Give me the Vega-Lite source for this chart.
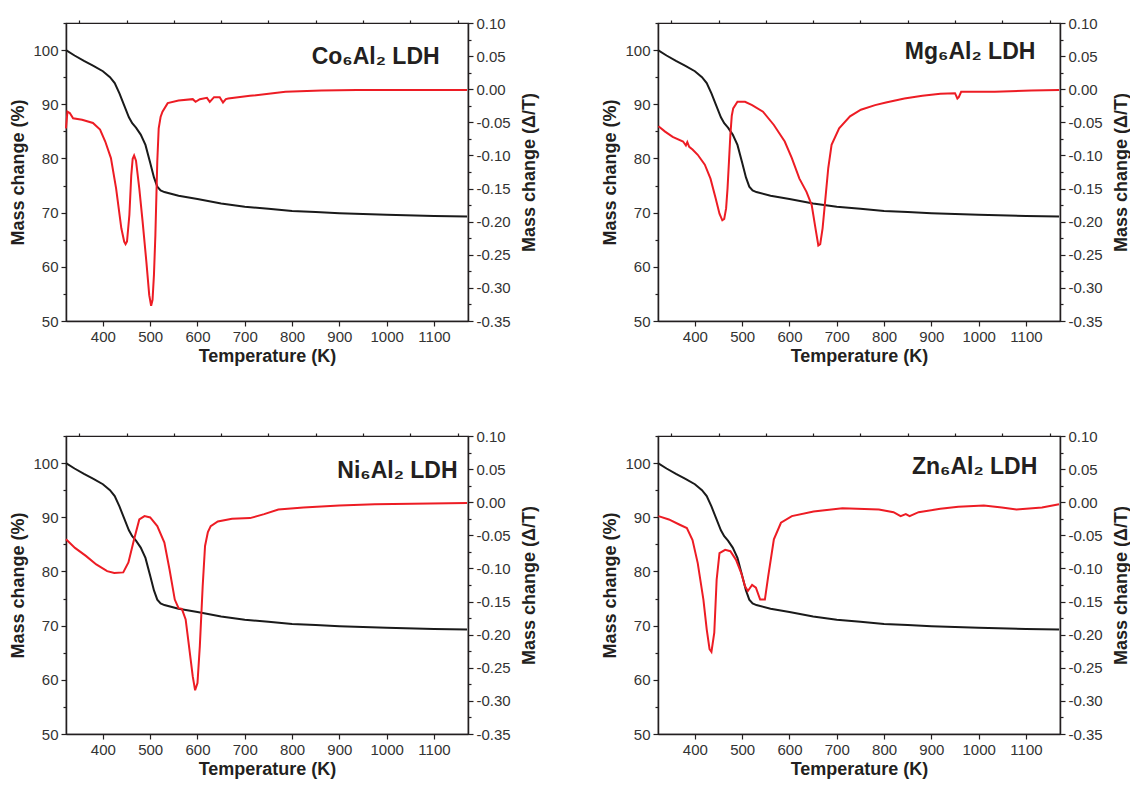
{
  "$schema": "https://vega.github.io/schema/vega-lite/v6.json",
  "padding": {"left": 9, "top": 15, "right": 0, "bottom": 0},
  "config": {
    "font": "Liberation Sans",
    "view": {"stroke": "#231f20", "strokeWidth": 1.2},
    "axis": {"grid": false, "domainColor": "#231f20", "domainWidth": 1.5, "tickColor": "#231f20", "tickWidth": 1.2, "tickSize": 5, "labelFontSize": 15, "labelColor": "#333333", "labelFont": "Liberation Sans", "titleFont": "Liberation Sans", "titleFontSize": 18, "titleFontWeight": "bold", "titleColor": "#231f20", "labelPadding": 3},
    "axisX": {"titlePadding": 3},
    "axisY": {"titlePadding": 5}
  },
  "datasets": {
    "tga": [
      {"T": 322, "m": 100}, {"T": 340, "m": 99.0}, {"T": 360, "m": 98.0}, {"T": 380, "m": 97.1}, {"T": 400, "m": 96.1},
      {"T": 415, "m": 95.0}, {"T": 425, "m": 93.9}, {"T": 435, "m": 92.0}, {"T": 445, "m": 89.8}, {"T": 455, "m": 87.6},
      {"T": 462, "m": 86.5}, {"T": 470, "m": 85.7}, {"T": 480, "m": 84.4}, {"T": 490, "m": 82.5}, {"T": 500, "m": 79.2},
      {"T": 508, "m": 76.5}, {"T": 515, "m": 74.8}, {"T": 522, "m": 74.1}, {"T": 530, "m": 73.8}, {"T": 560, "m": 73.1},
      {"T": 600, "m": 72.5}, {"T": 650, "m": 71.7}, {"T": 700, "m": 71.1}, {"T": 750, "m": 70.7}, {"T": 800, "m": 70.3},
      {"T": 850, "m": 70.1}, {"T": 900, "m": 69.9}, {"T": 1000, "m": 69.6}, {"T": 1100, "m": 69.4}, {"T": 1170, "m": 69.3}
    ],
    "co": [
      {"T": 322, "d": -0.059}, {"T": 325, "d": -0.034}, {"T": 330, "d": -0.036}, {"T": 337, "d": -0.044}, {"T": 356, "d": -0.046},
      {"T": 379, "d": -0.051}, {"T": 394, "d": -0.061}, {"T": 405, "d": -0.079}, {"T": 417, "d": -0.104}, {"T": 428, "d": -0.150},
      {"T": 439, "d": -0.210}, {"T": 445, "d": -0.230}, {"T": 448, "d": -0.234}, {"T": 451, "d": -0.230}, {"T": 456, "d": -0.190},
      {"T": 460, "d": -0.130}, {"T": 463, "d": -0.105}, {"T": 466, "d": -0.100}, {"T": 470, "d": -0.108}, {"T": 477, "d": -0.150},
      {"T": 484, "d": -0.200}, {"T": 492, "d": -0.261}, {"T": 498, "d": -0.311}, {"T": 502, "d": -0.327}, {"T": 505, "d": -0.318},
      {"T": 508, "d": -0.280}, {"T": 511, "d": -0.220}, {"T": 515, "d": -0.109}, {"T": 518, "d": -0.059}, {"T": 522, "d": -0.042},
      {"T": 526, "d": -0.034}, {"T": 537, "d": -0.021}, {"T": 560, "d": -0.017}, {"T": 590, "d": -0.015}, {"T": 596, "d": -0.019},
      {"T": 605, "d": -0.015}, {"T": 620, "d": -0.013}, {"T": 626, "d": -0.019}, {"T": 635, "d": -0.012}, {"T": 647, "d": -0.012},
      {"T": 654, "d": -0.020}, {"T": 660, "d": -0.015}, {"T": 665, "d": -0.014}, {"T": 711, "d": -0.010}, {"T": 786, "d": -0.004},
      {"T": 862, "d": -0.002}, {"T": 937, "d": -0.001}, {"T": 1170, "d": -0.001}
    ],
    "mg": [
      {"T": 323, "d": -0.056}, {"T": 337, "d": -0.064}, {"T": 353, "d": -0.072}, {"T": 375, "d": -0.079}, {"T": 381, "d": -0.085},
      {"T": 384, "d": -0.080}, {"T": 388, "d": -0.087}, {"T": 395, "d": -0.091}, {"T": 406, "d": -0.099}, {"T": 421, "d": -0.114},
      {"T": 433, "d": -0.135}, {"T": 444, "d": -0.165}, {"T": 452, "d": -0.188}, {"T": 458, "d": -0.198}, {"T": 462, "d": -0.196},
      {"T": 466, "d": -0.180}, {"T": 469, "d": -0.150}, {"T": 472, "d": -0.110}, {"T": 475, "d": -0.069}, {"T": 478, "d": -0.040},
      {"T": 481, "d": -0.029}, {"T": 490, "d": -0.019}, {"T": 506, "d": -0.019}, {"T": 521, "d": -0.024}, {"T": 544, "d": -0.034},
      {"T": 567, "d": -0.054}, {"T": 590, "d": -0.079}, {"T": 605, "d": -0.104}, {"T": 621, "d": -0.135}, {"T": 636, "d": -0.155},
      {"T": 647, "d": -0.175}, {"T": 655, "d": -0.210}, {"T": 661, "d": -0.236}, {"T": 665, "d": -0.234}, {"T": 670, "d": -0.210},
      {"T": 674, "d": -0.180}, {"T": 682, "d": -0.119}, {"T": 689, "d": -0.084}, {"T": 705, "d": -0.059}, {"T": 728, "d": -0.041},
      {"T": 751, "d": -0.031}, {"T": 781, "d": -0.024}, {"T": 804, "d": -0.020}, {"T": 843, "d": -0.014}, {"T": 881, "d": -0.010},
      {"T": 919, "d": -0.007}, {"T": 950, "d": -0.006}, {"T": 955, "d": -0.014}, {"T": 958, "d": -0.012}, {"T": 963, "d": -0.004},
      {"T": 1034, "d": -0.004}, {"T": 1111, "d": -0.002}, {"T": 1170, "d": -0.001}
    ],
    "ni": [
      {"T": 322, "d": -0.056}, {"T": 341, "d": -0.069}, {"T": 364, "d": -0.081}, {"T": 386, "d": -0.094}, {"T": 409, "d": -0.104},
      {"T": 424, "d": -0.107}, {"T": 443, "d": -0.106}, {"T": 454, "d": -0.091}, {"T": 466, "d": -0.056}, {"T": 477, "d": -0.026},
      {"T": 488, "d": -0.021}, {"T": 500, "d": -0.023}, {"T": 515, "d": -0.036}, {"T": 530, "d": -0.061}, {"T": 541, "d": -0.102},
      {"T": 552, "d": -0.147}, {"T": 560, "d": -0.160}, {"T": 567, "d": -0.161}, {"T": 575, "d": -0.177}, {"T": 582, "d": -0.217},
      {"T": 590, "d": -0.263}, {"T": 595, "d": -0.284}, {"T": 600, "d": -0.273}, {"T": 605, "d": -0.217}, {"T": 611, "d": -0.127},
      {"T": 616, "d": -0.066}, {"T": 622, "d": -0.045}, {"T": 628, "d": -0.036}, {"T": 643, "d": -0.029}, {"T": 673, "d": -0.025},
      {"T": 711, "d": -0.024}, {"T": 741, "d": -0.018}, {"T": 771, "d": -0.011}, {"T": 824, "d": -0.008}, {"T": 900, "d": -0.005},
      {"T": 975, "d": -0.003}, {"T": 1170, "d": -0.001}
    ],
    "zn": [
      {"T": 323, "d": -0.021}, {"T": 345, "d": -0.026}, {"T": 368, "d": -0.034}, {"T": 383, "d": -0.039}, {"T": 395, "d": -0.057},
      {"T": 406, "d": -0.092}, {"T": 418, "d": -0.147}, {"T": 425, "d": -0.192}, {"T": 431, "d": -0.222}, {"T": 435, "d": -0.226},
      {"T": 441, "d": -0.197}, {"T": 446, "d": -0.117}, {"T": 452, "d": -0.077}, {"T": 464, "d": -0.072}, {"T": 475, "d": -0.074},
      {"T": 487, "d": -0.087}, {"T": 498, "d": -0.107}, {"T": 506, "d": -0.127}, {"T": 512, "d": -0.134}, {"T": 521, "d": -0.125},
      {"T": 529, "d": -0.129}, {"T": 538, "d": -0.147}, {"T": 548, "d": -0.147}, {"T": 555, "d": -0.112}, {"T": 567, "d": -0.056},
      {"T": 582, "d": -0.031}, {"T": 605, "d": -0.021}, {"T": 651, "d": -0.014}, {"T": 712, "d": -0.009}, {"T": 789, "d": -0.011},
      {"T": 820, "d": -0.015}, {"T": 835, "d": -0.021}, {"T": 846, "d": -0.018}, {"T": 854, "d": -0.021}, {"T": 873, "d": -0.015},
      {"T": 919, "d": -0.010}, {"T": 957, "d": -0.007}, {"T": 1011, "d": -0.005}, {"T": 1049, "d": -0.008}, {"T": 1080, "d": -0.011},
      {"T": 1134, "d": -0.008}, {"T": 1170, "d": -0.003}
    ]
  },
  "vconcat": [
    {"hconcat": [
      {"width": 402, "height": 298,
       "layer": [
        {"data": {"name": "tga"}, "mark": {"type": "line", "color": "#1a1a1a", "strokeWidth": 2},
         "encoding": {"x": {"field": "T", "type": "quantitative", "scale": {"domain": [322, 1172], "nice": false, "zero": false}, "axis": {"values": [400, 500, 600, 700, 800, 900, 1000, 1100], "format": "d", "title": "Temperature (K)"}},
                      "y": {"field": "m", "type": "quantitative", "scale": {"domain": [50, 105], "nice": false, "zero": false}, "axis": {"orient": "left", "values": [50, 60, 70, 80, 90, 100], "title": "Mass change (%)"}}}},
        {"data": {"name": "tga"}, "mark": {"type": "line", "strokeOpacity": 0},
         "encoding": {"x": {"field": "T", "type": "quantitative", "scale": {"domain": [322, 1172], "nice": false, "zero": false}, "axis": {"values": [350, 450, 550, 650, 750, 850, 950, 1050, 1150], "labels": false, "domain": false, "title": null, "tickSize": 3}},
                      "y": {"field": "m", "type": "quantitative", "scale": {"domain": [50, 105], "nice": false, "zero": false}, "axis": {"orient": "left", "values": [55, 65, 75, 85, 95, 105], "labels": false, "domain": false, "title": null, "tickSize": 3}}}},
        {"data": {"name": "co"}, "mark": {"type": "line", "color": "#ed1c24", "strokeWidth": 2},
         "encoding": {"x": {"field": "T", "type": "quantitative", "scale": {"domain": [322, 1172], "nice": false, "zero": false}, "axis": null},
                      "y": {"field": "d", "type": "quantitative", "scale": {"domain": [-0.35, 0.1], "nice": false, "zero": false}, "axis": {"orient": "right", "values": [-0.35, -0.3, -0.25, -0.2, -0.15, -0.1, -0.05, 0, 0.05, 0.1], "labelExpr": "replace(format(datum.value, '.2f'), '−', '-')", "title": "Mass change (Δ/T)", "titleAngle": -90, "titleBaseline": "top", "titlePadding": 10}}}},
        {"data": {"name": "co"}, "mark": {"type": "line", "strokeOpacity": 0},
         "encoding": {"x": {"field": "T", "type": "quantitative", "scale": {"domain": [322, 1172], "nice": false, "zero": false}, "axis": null},
                      "y": {"field": "d", "type": "quantitative", "scale": {"domain": [-0.35, 0.1], "nice": false, "zero": false}, "axis": {"orient": "right", "values": [-0.325, -0.275, -0.225, -0.175, -0.125, -0.075, -0.025, 0.025, 0.075], "labels": false, "domain": false, "title": null, "tickSize": 3}}}},
        {"data": {"values": [{"T": 1112, "m": 98.8, "label": "Co₆Al₂ LDH"}]}, "mark": {"type": "text", "align": "right", "baseline": "middle", "fontSize": 23, "fontWeight": "bold", "color": "#231f20"},
         "encoding": {"x": {"field": "T", "type": "quantitative", "scale": {"domain": [322, 1172], "nice": false, "zero": false}, "axis": null},
                      "y": {"field": "m", "type": "quantitative", "scale": {"domain": [50, 105], "nice": false, "zero": false}, "axis": null},
                      "text": {"field": "label"}}}
       ],
       "resolve": {"scale": {"y": "independent"}, "axis": {"x": "independent", "y": "independent"}}},
      {"width": 402, "height": 298,
       "layer": [
        {"data": {"name": "tga"}, "mark": {"type": "line", "color": "#1a1a1a", "strokeWidth": 2},
         "encoding": {"x": {"field": "T", "type": "quantitative", "scale": {"domain": [322, 1172], "nice": false, "zero": false}, "axis": {"values": [400, 500, 600, 700, 800, 900, 1000, 1100], "format": "d", "title": "Temperature (K)"}},
                      "y": {"field": "m", "type": "quantitative", "scale": {"domain": [50, 105], "nice": false, "zero": false}, "axis": {"orient": "left", "values": [50, 60, 70, 80, 90, 100], "title": "Mass change (%)"}}}},
        {"data": {"name": "tga"}, "mark": {"type": "line", "strokeOpacity": 0},
         "encoding": {"x": {"field": "T", "type": "quantitative", "scale": {"domain": [322, 1172], "nice": false, "zero": false}, "axis": {"values": [350, 450, 550, 650, 750, 850, 950, 1050, 1150], "labels": false, "domain": false, "title": null, "tickSize": 3}},
                      "y": {"field": "m", "type": "quantitative", "scale": {"domain": [50, 105], "nice": false, "zero": false}, "axis": {"orient": "left", "values": [55, 65, 75, 85, 95, 105], "labels": false, "domain": false, "title": null, "tickSize": 3}}}},
        {"data": {"name": "mg"}, "mark": {"type": "line", "color": "#ed1c24", "strokeWidth": 2},
         "encoding": {"x": {"field": "T", "type": "quantitative", "scale": {"domain": [322, 1172], "nice": false, "zero": false}, "axis": null},
                      "y": {"field": "d", "type": "quantitative", "scale": {"domain": [-0.35, 0.1], "nice": false, "zero": false}, "axis": {"orient": "right", "values": [-0.35, -0.3, -0.25, -0.2, -0.15, -0.1, -0.05, 0, 0.05, 0.1], "labelExpr": "replace(format(datum.value, '.2f'), '−', '-')", "title": "Mass change (Δ/T)", "titleAngle": -90, "titleBaseline": "top", "titlePadding": 10}}}},
        {"data": {"name": "mg"}, "mark": {"type": "line", "strokeOpacity": 0},
         "encoding": {"x": {"field": "T", "type": "quantitative", "scale": {"domain": [322, 1172], "nice": false, "zero": false}, "axis": null},
                      "y": {"field": "d", "type": "quantitative", "scale": {"domain": [-0.35, 0.1], "nice": false, "zero": false}, "axis": {"orient": "right", "values": [-0.325, -0.275, -0.225, -0.175, -0.125, -0.075, -0.025, 0.025, 0.075], "labels": false, "domain": false, "title": null, "tickSize": 3}}}},
        {"data": {"values": [{"T": 1120, "m": 99.6, "label": "Mg₆Al₂ LDH"}]}, "mark": {"type": "text", "align": "right", "baseline": "middle", "fontSize": 23, "fontWeight": "bold", "color": "#231f20"},
         "encoding": {"x": {"field": "T", "type": "quantitative", "scale": {"domain": [322, 1172], "nice": false, "zero": false}, "axis": null},
                      "y": {"field": "m", "type": "quantitative", "scale": {"domain": [50, 105], "nice": false, "zero": false}, "axis": null},
                      "text": {"field": "label"}}}
       ],
       "resolve": {"scale": {"y": "independent"}, "axis": {"x": "independent", "y": "independent"}}}
    ], "spacing": 62},
    {"hconcat": [
      {"width": 402, "height": 298,
       "layer": [
        {"data": {"name": "tga"}, "mark": {"type": "line", "color": "#1a1a1a", "strokeWidth": 2},
         "encoding": {"x": {"field": "T", "type": "quantitative", "scale": {"domain": [322, 1172], "nice": false, "zero": false}, "axis": {"values": [400, 500, 600, 700, 800, 900, 1000, 1100], "format": "d", "title": "Temperature (K)"}},
                      "y": {"field": "m", "type": "quantitative", "scale": {"domain": [50, 105], "nice": false, "zero": false}, "axis": {"orient": "left", "values": [50, 60, 70, 80, 90, 100], "title": "Mass change (%)"}}}},
        {"data": {"name": "tga"}, "mark": {"type": "line", "strokeOpacity": 0},
         "encoding": {"x": {"field": "T", "type": "quantitative", "scale": {"domain": [322, 1172], "nice": false, "zero": false}, "axis": {"values": [350, 450, 550, 650, 750, 850, 950, 1050, 1150], "labels": false, "domain": false, "title": null, "tickSize": 3}},
                      "y": {"field": "m", "type": "quantitative", "scale": {"domain": [50, 105], "nice": false, "zero": false}, "axis": {"orient": "left", "values": [55, 65, 75, 85, 95, 105], "labels": false, "domain": false, "title": null, "tickSize": 3}}}},
        {"data": {"name": "ni"}, "mark": {"type": "line", "color": "#ed1c24", "strokeWidth": 2},
         "encoding": {"x": {"field": "T", "type": "quantitative", "scale": {"domain": [322, 1172], "nice": false, "zero": false}, "axis": null},
                      "y": {"field": "d", "type": "quantitative", "scale": {"domain": [-0.35, 0.1], "nice": false, "zero": false}, "axis": {"orient": "right", "values": [-0.35, -0.3, -0.25, -0.2, -0.15, -0.1, -0.05, 0, 0.05, 0.1], "labelExpr": "replace(format(datum.value, '.2f'), '−', '-')", "title": "Mass change (Δ/T)", "titleAngle": -90, "titleBaseline": "top", "titlePadding": 10}}}},
        {"data": {"name": "ni"}, "mark": {"type": "line", "strokeOpacity": 0},
         "encoding": {"x": {"field": "T", "type": "quantitative", "scale": {"domain": [322, 1172], "nice": false, "zero": false}, "axis": null},
                      "y": {"field": "d", "type": "quantitative", "scale": {"domain": [-0.35, 0.1], "nice": false, "zero": false}, "axis": {"orient": "right", "values": [-0.325, -0.275, -0.225, -0.175, -0.125, -0.075, -0.025, 0.025, 0.075], "labels": false, "domain": false, "title": null, "tickSize": 3}}}},
        {"data": {"values": [{"T": 1150, "m": 98.6, "label": "Ni₆Al₂ LDH"}]}, "mark": {"type": "text", "align": "right", "baseline": "middle", "fontSize": 23, "fontWeight": "bold", "color": "#231f20"},
         "encoding": {"x": {"field": "T", "type": "quantitative", "scale": {"domain": [322, 1172], "nice": false, "zero": false}, "axis": null},
                      "y": {"field": "m", "type": "quantitative", "scale": {"domain": [50, 105], "nice": false, "zero": false}, "axis": null},
                      "text": {"field": "label"}}}
       ],
       "resolve": {"scale": {"y": "independent"}, "axis": {"x": "independent", "y": "independent"}}},
      {"width": 402, "height": 298,
       "layer": [
        {"data": {"name": "tga"}, "mark": {"type": "line", "color": "#1a1a1a", "strokeWidth": 2},
         "encoding": {"x": {"field": "T", "type": "quantitative", "scale": {"domain": [322, 1172], "nice": false, "zero": false}, "axis": {"values": [400, 500, 600, 700, 800, 900, 1000, 1100], "format": "d", "title": "Temperature (K)"}},
                      "y": {"field": "m", "type": "quantitative", "scale": {"domain": [50, 105], "nice": false, "zero": false}, "axis": {"orient": "left", "values": [50, 60, 70, 80, 90, 100], "title": "Mass change (%)"}}}},
        {"data": {"name": "tga"}, "mark": {"type": "line", "strokeOpacity": 0},
         "encoding": {"x": {"field": "T", "type": "quantitative", "scale": {"domain": [322, 1172], "nice": false, "zero": false}, "axis": {"values": [350, 450, 550, 650, 750, 850, 950, 1050, 1150], "labels": false, "domain": false, "title": null, "tickSize": 3}},
                      "y": {"field": "m", "type": "quantitative", "scale": {"domain": [50, 105], "nice": false, "zero": false}, "axis": {"orient": "left", "values": [55, 65, 75, 85, 95, 105], "labels": false, "domain": false, "title": null, "tickSize": 3}}}},
        {"data": {"name": "zn"}, "mark": {"type": "line", "color": "#ed1c24", "strokeWidth": 2},
         "encoding": {"x": {"field": "T", "type": "quantitative", "scale": {"domain": [322, 1172], "nice": false, "zero": false}, "axis": null},
                      "y": {"field": "d", "type": "quantitative", "scale": {"domain": [-0.35, 0.1], "nice": false, "zero": false}, "axis": {"orient": "right", "values": [-0.35, -0.3, -0.25, -0.2, -0.15, -0.1, -0.05, 0, 0.05, 0.1], "labelExpr": "replace(format(datum.value, '.2f'), '−', '-')", "title": "Mass change (Δ/T)", "titleAngle": -90, "titleBaseline": "top", "titlePadding": 10}}}},
        {"data": {"name": "zn"}, "mark": {"type": "line", "strokeOpacity": 0},
         "encoding": {"x": {"field": "T", "type": "quantitative", "scale": {"domain": [322, 1172], "nice": false, "zero": false}, "axis": null},
                      "y": {"field": "d", "type": "quantitative", "scale": {"domain": [-0.35, 0.1], "nice": false, "zero": false}, "axis": {"orient": "right", "values": [-0.325, -0.275, -0.225, -0.175, -0.125, -0.075, -0.025, 0.025, 0.075], "labels": false, "domain": false, "title": null, "tickSize": 3}}}},
        {"data": {"values": [{"T": 1124, "m": 99.3, "label": "Zn₆Al₂ LDH"}]}, "mark": {"type": "text", "align": "right", "baseline": "middle", "fontSize": 23, "fontWeight": "bold", "color": "#231f20"},
         "encoding": {"x": {"field": "T", "type": "quantitative", "scale": {"domain": [322, 1172], "nice": false, "zero": false}, "axis": null},
                      "y": {"field": "m", "type": "quantitative", "scale": {"domain": [50, 105], "nice": false, "zero": false}, "axis": null},
                      "text": {"field": "label"}}}
       ],
       "resolve": {"scale": {"y": "independent"}, "axis": {"x": "independent", "y": "independent"}}}
    ], "spacing": 62}
  ],
  "spacing": 62
}
